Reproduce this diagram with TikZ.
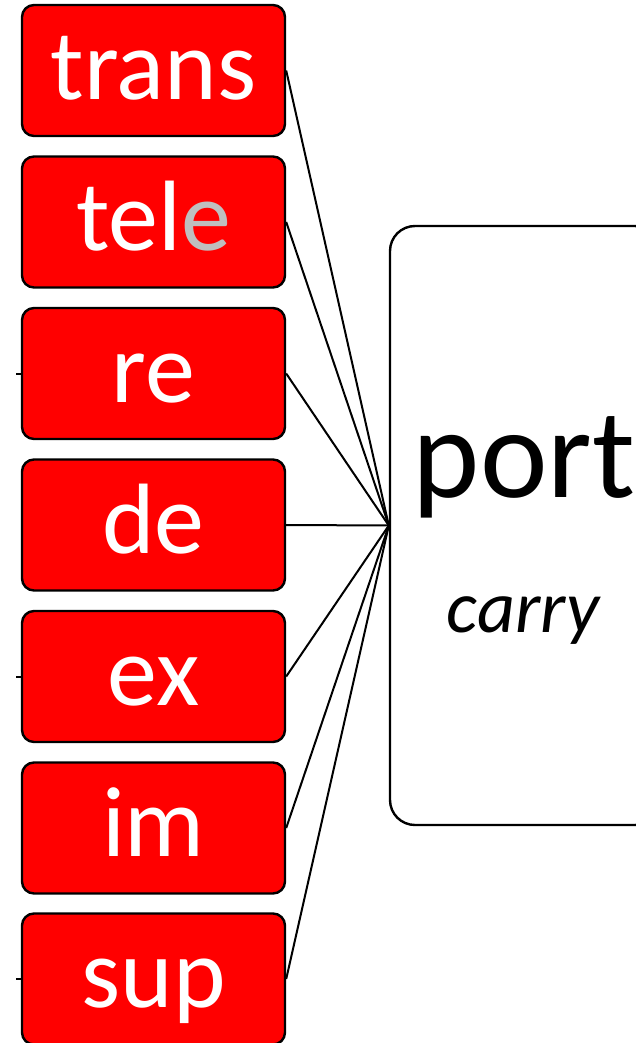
\documentclass[tikz,border=0pt]{standalone}
\usepackage{fontspec}
\setmainfont{Carlito}
\usepackage{tikz}
\tikzset{
	prefixbox/.style={draw=black, line width=1.2pt, fill=red, rounded corners=6pt,
		minimum width=131.5pt, minimum height=65.5pt, inner sep=0pt, text=white,
		font=\fontsize{50}{50}\selectfont, text height=34.3pt, text depth=5.4pt},
	rootbox/.style={draw=black, line width=1.2pt, fill=white, rounded corners=12.5pt,
		minimum width=135pt, minimum height=299.5pt, inner sep=0pt},
	link/.style={line width=1pt}
}

\begin{document}
\begin{tikzpicture}[x=0.5pt, y=-0.5pt]
		%%%%% START %%%%%
		\useasboundingbox (0, 0) rectangle (636, 1043);
		
		\node[prefixbox] (trans) at (153.5, 70.5) {trans};
		\node[prefixbox] (tele) at (153.5, 222) {tel\textcolor{black!25}{e}};
		\node[prefixbox] (re) at (153.5, 373.5) {re};
		\node[prefixbox] (de) at (153.5, 525) {de};
		\node[prefixbox] (ex) at (153.5, 676.5) {ex};
		\node[prefixbox] (im) at (153.5, 828) {im};
		\node[prefixbox] (sup) at (153.5, 979) {sup};
		
		\node[rootbox] (port) at (525, 525.5) {};
		\node[anchor=base, font=\fontsize{64}{64}\selectfont] (root) at (524, 497) {port};
		\node[anchor=base, font=\fontsize{37}{37}\selectfont\itshape] (meaning) at (523, 632) {carry};
		
		\draw[link] (trans.east) -- (port.west);
		\draw[link] (tele.east) -- (port.west);
		\draw[link] (re.east) -- (port.west);
		\draw[link] (de.east) -- (port.west);
		\draw[link] (ex.east) -- (port.west);
		\draw[link] (im.east) -- (port.west);
		\draw[link] (sup.east) -- (port.west);
		
		\draw[link] (re.west) -- ++(-5, 0);
		\draw[link] (ex.west) -- ++(-5, 0);
		\draw[link] (sup.west) -- ++(-5, 0);
		
		%%%%% END %%%%%
	\end{tikzpicture}
\end{document}
